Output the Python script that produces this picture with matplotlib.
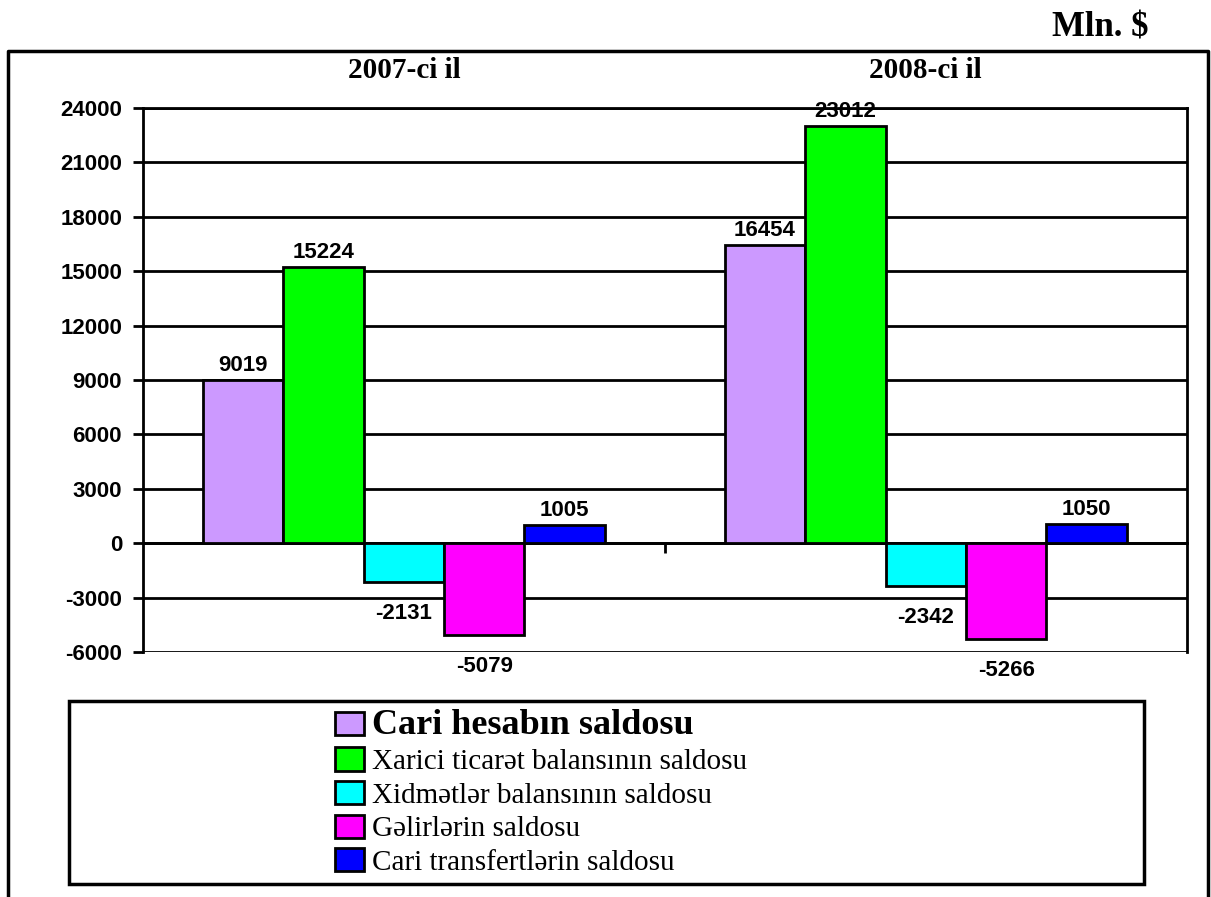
import numpy as np
import matplotlib.pyplot as plt
from matplotlib.patches import Rectangle

# Dados (mln. $)
anos = ['2007-ci il', '2008-ci il']
series = ['Cari hesabın saldosu',
          'Xarici ticarət balansının saldosu',
          'Xidmətlər balansının saldosu',
          'Gəlirlərin saldosu',
          'Cari transfertlərin saldosu']
cari_hesab = [9019, 16454]
xarici_ticaret = [15224, 23012]
xidmetler = [-2131, -2342]
gelirler = [-5079, -5266]
transfertler = [1005, 1050]
cores = ['#cc99ff', '#00ff00', '#00ffff', '#ff00ff', '#0000ff']

valores = [cari_hesab, xarici_ticaret, xidmetler, gelirler, transfertler]

serif = ['Liberation Serif', 'DejaVu Serif']
sans = ['Liberation Sans', 'DejaVu Sans']

fig = plt.figure(figsize=(12.11, 8.97), dpi=100)
ax = fig.add_axes([0.118, 0.2731, 0.862, 0.6065])

x = np.arange(len(anos))
largura = 0.154
for i, (vals, cor, nome) in enumerate(zip(valores, cores, series)):
    pos = x + (i - 2) * largura
    ax.bar(pos, vals, width=largura, color=cor, edgecolor='black',
           linewidth=2, label=nome, zorder=3)
    for px, v in zip(pos, vals):
        dy = 3 if v >= 0 else -15
        va = 'bottom' if v >= 0 else 'top'
        ax.annotate(f'{v}', xy=(px, v), xytext=(0, dy), textcoords='offset points',
                    ha='center', va=va, fontsize=16, fontweight='bold',
                    family=sans, zorder=4)

ax.set_xlim(-0.5, 1.5)
ax.set_ylim(-6000, 24000)
ax.set_yticks(np.arange(-6000, 24001, 3000))
ax.set_yticklabels([str(v) for v in range(-6000, 24001, 3000)],
                   fontsize=16, fontweight='bold', family=sans)
ax.yaxis.grid(True, color='black', linewidth=2, zorder=0)
ax.tick_params(axis='y', length=7, width=2, pad=8)

# eixo das categorias passa pelo zero
ax.spines['bottom'].set_position(('data', 0))
ax.set_xticks([0.5])
ax.set_xticklabels([''])
ax.tick_params(axis='x', length=7, width=2, direction='out')
for s in ax.spines.values():
    s.set_linewidth(2)

# rótulos dos anos no topo
ax2 = ax.twiny()
ax2.set_xlim(ax.get_xlim())
ax2.set_xticks(x)
ax2.set_xticklabels(anos, fontsize=21, fontweight='bold', family=serif)
ax2.tick_params(axis='x', length=0, pad=17)
for s in ax2.spines.values():
    s.set_visible(False)

# moldura externa
fig.add_artist(plt.Line2D([8/1211, 8/1211, 1208/1211, 1208/1211],
                          [0, 1 - 51/897, 1 - 51/897, 0],
                          transform=fig.transFigure, color='black', linewidth=2.5))

fig.text(1100/1211, 1 - 28/897, 'Mln. $', ha='center', va='center',
         fontsize=25, fontweight='bold', family=serif)

# caixa da legenda
fig.add_artist(Rectangle((69/1211, 1 - 884/897), 1075/1211, 183/897,
                         transform=fig.transFigure, fill=False,
                         edgecolor='black', linewidth=2.5))
leg = fig.legend(loc='upper left', bbox_to_anchor=(320/1211, 1 - 694/897),
                 frameon=False, prop={'family': serif, 'size': 21},
                 handlelength=1.0, handleheight=0.85, handletextpad=0.3,
                 labelspacing=0.2, borderpad=0)
leg.get_texts()[0].set_fontweight('bold')
leg.get_texts()[0].set_fontsize(26)

fig.savefig('out.png', dpi=100)
